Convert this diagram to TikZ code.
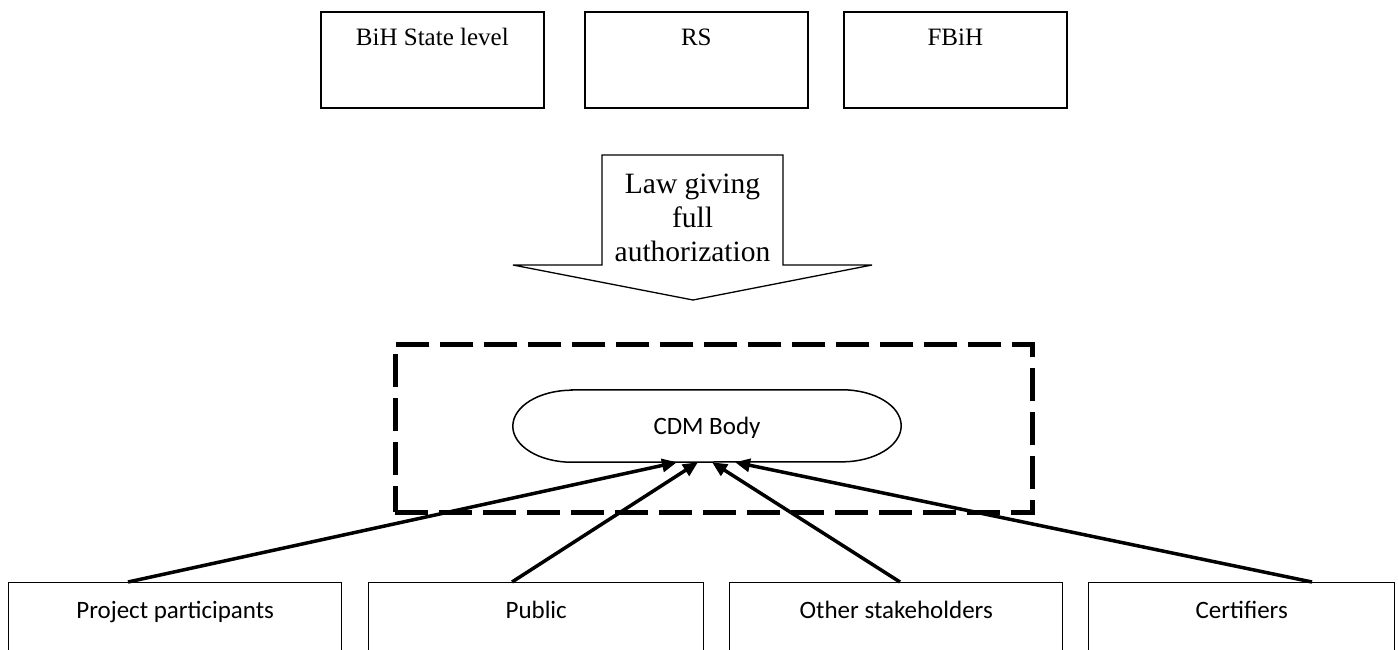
\documentclass[tikz,border=0pt]{standalone}
\usepackage{fontspec}
\setmainfont{Liberation Serif}
\newfontfamily\calibrifont{Carlito}
\usetikzlibrary{arrows.meta,calc}
\begin{document}
\begin{tikzpicture}[x=1pt,y=-1pt,
  govbox/.style={draw, line width=1.6pt, fill=white, anchor=north west,
    minimum width=223pt, minimum height=96pt, inner sep=0pt,
    text height=34pt, text depth=62pt, font=\fontsize{25}{30}\selectfont},
  actorbox/.style={draw, line width=1.4pt, fill=white, anchor=north west,
    minimum height=136pt, inner sep=0pt,
    text height=36pt, text depth=100pt, font=\calibrifont\fontsize{25}{30}\selectfont},
  zonebox/.style={draw, line width=4.5pt, dash pattern=on 33pt off 11pt,
    anchor=north west, inner sep=0pt},
  bodytext/.style={inner sep=0pt, minimum width=388pt, minimum height=72pt,
    text height=16pt, text depth=0pt, font=\calibrifont\fontsize{25}{30}\selectfont},
  stadium/.style={draw, line width=1.5pt},
  blockarrow/.style={draw, line width=1.3pt, fill=white, line join=miter},
  lawtext/.style={inner sep=0pt, align=center, anchor=north,
    font=\fontsize{29.5}{34}\selectfont},
  conn/.style={line width=3.5pt, -{Triangle[length=15pt,width=13pt]}},
]
\useasboundingbox (0,0) rectangle (1398,649);
\clip (0,0) rectangle (1398,649);

% levels of government
\node[govbox] (state) at (320,11) {BiH State level};
\node[govbox] (rs)    at (584,11) {RS};
\node[govbox] (fbih)  at (843,11) {FBiH};

% block arrow carrying the law
\draw[blockarrow] (602,155) -- (783,155) -- (783,265) -- (872,265)
  -- (693,300) -- (513,265) -- (602,265) -- cycle;
\node[lawtext] (law) at (692.5,174) {Law giving\\full\\authorization};

% dashed frame round the CDM body
\node[zonebox, minimum width=637pt, minimum height=168pt] (zone) at (393,342) {};

% CDM body with elliptical ends
\node[bodytext] (cdm) at (707,426) {CDM Body};
\draw[stadium] ($(cdm.north west)+(59,0)$) -- ($(cdm.north east)+(-59,0)$)
  arc[start angle=90, end angle=-90, x radius=59pt, y radius=36pt]
  -- ($(cdm.south west)+(59,0)$)
  arc[start angle=270, end angle=90, x radius=59pt, y radius=36pt] -- cycle;

% actors
\node[actorbox, minimum width=333pt] (pp)   at (8,582)    {Project participants};
\node[actorbox, minimum width=335pt] (pub)  at (368,582)  {Public};
\node[actorbox, minimum width=333pt] (oth)  at (729,582)  {Other stakeholders};
\node[actorbox, minimum width=306pt] (cert) at (1088,582) {Certifiers};

% links into the CDM body
\draw[conn] ($(pp.north west)+(120,0)$)   -- ($(cdm.south)+(-30,0)$);
\draw[conn] ($(pub.north west)+(144,0)$)  -- ($(cdm.south)+(-9,0)$);
\draw[conn] ($(oth.north west)+(171,0)$)  -- ($(cdm.south)+(5,0)$);
\draw[conn] ($(cert.north west)+(224,0)$) -- ($(cdm.south)+(28,0)$);
\end{tikzpicture}
\end{document}
